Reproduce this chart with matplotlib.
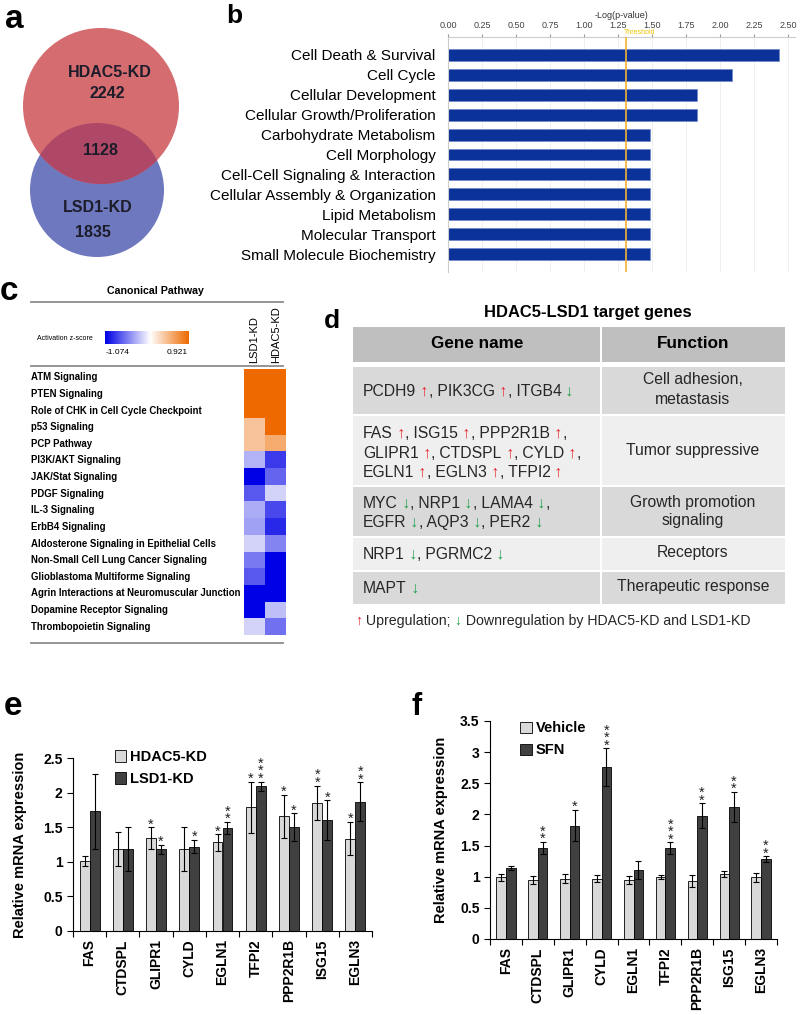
import numpy as np
import matplotlib
matplotlib.use("Agg")
import matplotlib.pyplot as plt
from matplotlib.patches import Circle, Rectangle
from matplotlib.colors import LinearSegmentedColormap, TwoSlopeNorm
from matplotlib.font_manager import FontProperties
from matplotlib.ticker import FuncFormatter
import matplotlib.transforms as mtrans

plt.rcParams['font.family'] = ['Liberation Sans', 'DejaVu Sans']

# ---- panel a: Venn counts ----
venn_names = ["HDAC5-KD", "LSD1-KD"]
venn_only = [2242, 1835]
venn_both = 1128

# ---- panel b: IPA functions ----
b_categories = ["Cell Death & Survival", "Cell Cycle", "Cellular Development",
                "Cellular Growth/Proliferation", "Carbohydrate Metabolism",
                "Cell Morphology", "Cell-Cell Signaling & Interaction",
                "Cellular Assembly & Organization", "Lipid Metabolism",
                "Molecular Transport", "Small Molecule Biochemistry"]
b_logp = [2.43, 2.09, 1.83, 1.83, 1.485, 1.485, 1.485, 1.485, 1.485, 1.485, 1.485]
b_threshold = 1.31

# ---- panel c: canonical pathway z-scores ----
c_pathways = ["ATM Signaling", "PTEN Signaling", "Role of CHK in Cell Cycle Checkpoint",
              "p53 Signaling", "PCP Pathway", "PI3K/AKT Signaling", "JAK/Stat Signaling",
              "PDGF Signaling", "IL-3 Signaling", "ErbB4 Signaling",
              "Aldosterone Signaling in Epithelial Cells",
              "Non-Small Cell Lung Cancer Signaling", "Glioblastoma Multiforme Signaling",
              "Agrin Interactions at Neuromuscular Junction",
              "Dopamine Receptor Signaling", "Thrombopoietin Signaling"]
c_columns = ["LSD1-KD", "HDAC5-KD"]
c_lsd1 = [0.921, 0.921, 0.921, 0.36, 0.36, -0.32, -1.074, -0.70, -0.35, -0.40,
          -0.18, -0.56, -0.70, -1.074, -1.074, -0.18]
c_hdac5 = [0.921, 0.921, 0.921, 0.921, 0.52, -0.83, -0.65, -0.18, -0.77, -0.90,
           -0.52, -1.074, -1.074, -1.074, -0.27, -0.60]
c_zmin, c_zmax = -1.074, 0.921

# ---- panel d: target gene table ----
d_genes = [
    [[("PCDH9", "up"), ("PIK3CG", "up"), ("ITGB4", "down")]],
    [[("FAS", "up"), ("ISG15", "up"), ("PPP2R1B", "up")],
     [("GLIPR1", "up"), ("CTDSPL", "up"), ("CYLD", "up")],
     [("EGLN1", "up"), ("EGLN3", "up"), ("TFPI2", "up")]],
    [[("MYC", "down"), ("NRP1", "down"), ("LAMA4", "down")],
     [("EGFR", "down"), ("AQP3", "down"), ("PER2", "down")]],
    [[("NRP1", "down"), ("PGRMC2", "down")]],
    [[("MAPT", "down")]],
]
d_functions = [["Cell adhesion,", "metastasis"], ["Tumor suppressive"],
               ["Growth promotion", "signaling"], ["Receptors"], ["Therapeutic response"]]

# ---- panels e/f: qPCR ----
genes = ["FAS", "CTDSPL", "GLIPR1", "CYLD", "EGLN1", "TFPI2", "PPP2R1B", "ISG15", "EGLN3"]
e_hdac5 = [1.015, 1.185, 1.34, 1.19, 1.28, 1.79, 1.66, 1.85, 1.335]
e_hdac5_err = [0.07, 0.25, 0.16, 0.32, 0.12, 0.37, 0.31, 0.25, 0.24]
e_lsd1 = [1.73, 1.19, 1.18, 1.22, 1.485, 2.09, 1.50, 1.60, 1.87]
e_lsd1_err = [0.54, 0.32, 0.07, 0.10, 0.09, 0.07, 0.20, 0.29, 0.28]
e_hdac5_sig = ["", "", "*", "", "*", "*", "*", "**", "*"]
e_lsd1_sig = ["", "", "*", "*", "**", "***", "*", "*", "**"]

f_vehicle = [0.99, 0.95, 0.97, 0.97, 0.95, 0.99, 0.93, 1.04, 0.99]
f_vehicle_err = [0.06, 0.06, 0.07, 0.06, 0.06, 0.03, 0.10, 0.045, 0.07]
f_sfn = [1.14, 1.46, 1.82, 2.76, 1.11, 1.46, 1.98, 2.12, 1.28]
f_sfn_err = [0.04, 0.10, 0.25, 0.30, 0.15, 0.09, 0.20, 0.24, 0.05]
f_sfn_sig = ["", "**", "*", "***", "", "***", "**", "**", "**"]

W, H = 800, 1015
fig = plt.figure(figsize=(W / 100, H / 100), dpi=100)
base = fig.add_axes([0, 0, 1, 1])
base.set_xlim(0, W)
base.set_ylim(H, 0)
base.axis('off')


def px_axes(x0, y0, x1, y1):
    return fig.add_axes([x0 / W, 1 - y1 / H, (x1 - x0) / W, (y1 - y0) / H])


# panel letters
for s, x, y, size in [("a", 5, 28, 24), ("b", 226, 23, 19), ("c", 0, 300, 24),
                      ("d", 324, 328, 19), ("e", 4, 715, 24), ("f", 412, 715, 22)]:
    base.text(x, y, s, fontsize=size, fontweight='bold', va='baseline', ha='left')

# ---- a ----
blue = Circle((97, 190), 67, fc='#6E78BE', ec='none')
red = Circle((101, 106), 78, fc='#D46C70', ec='none')
base.add_patch(blue)
base.add_patch(red)
lens = Circle((101, 106), 78, fc='#AE4866', ec='none')
base.add_patch(lens)
lens.set_clip_path(blue)
vkw = dict(fontsize=11.5, fontweight='bold', ha='center', va='center', color='#1c1c2a')
base.text(110, 72, venn_names[0], **vkw)
base.text(107, 93, str(venn_only[0]), **vkw)
base.text(100, 150, str(venn_both), **vkw)
base.text(98, 207, venn_names[1], **vkw)
base.text(93, 232, str(venn_only[1]), **vkw)

# ---- b ----
axb = px_axes(448, 37, 795, 272)
yb = np.arange(len(b_categories))
axb.barh(yb, b_logp, height=0.6, color='#0B3299', edgecolor='#7088C8', linewidth=0.5, zorder=2)
axb.set_ylim(len(b_categories) - 0.1, -0.9)
axb.set_xlim(0, 2.55)
ticks = np.arange(0, 2.51, 0.25)
axb.set_xticks(ticks)
axb.set_xticklabels(["%.2f" % t for t in ticks])
axb.xaxis.tick_top()
axb.xaxis.set_label_position('top')
axb.set_xlabel('-Log(p-value)', fontsize=6.5, labelpad=2, color='#333333')
axb.tick_params(axis='x', labelsize=6.5, colors='#999999', labelcolor='#444444', length=2, pad=3)
axb.set_yticks(yb)
axb.set_yticklabels(b_categories, fontsize=11)
axb.tick_params(axis='y', length=0, pad=9)
axb.grid(axis='x', color='#ececec', lw=0.6)
axb.set_axisbelow(True)
for sp in ['right', 'bottom']:
    axb.spines[sp].set_visible(False)
for sp in ['left', 'top']:
    axb.spines[sp].set_color('#cccccc')
axb.axvline(b_threshold, color='#F2B233', lw=1.2, zorder=3)
trb = mtrans.blended_transform_factory(axb.transData, axb.transAxes)
axb.text(b_threshold - 0.02, 1.005, 'Threshold', transform=trb, color='#F2C400',
         fontsize=5, ha='left', va='bottom')

# ---- c ----
base.text(155, 291, 'Canonical Pathway', ha='center', va='center', fontsize=7.7, fontweight='bold')
for yl in [302, 366, 643]:
    base.plot([31, 283], [yl, yl], color='#8c8c8c', lw=1.3)
base.text(37, 338, 'Activation z-score', fontsize=5, va='center', ha='left')
cmap = LinearSegmentedColormap.from_list('z', [(0, '#0000E6'), (0.5, '#FFFFFF'), (1, '#EE6A00')])
norm = TwoSlopeNorm(vmin=c_zmin, vcenter=0, vmax=c_zmax)
axcb = px_axes(105, 331, 189, 344)
axcb.imshow(np.linspace(c_zmin, c_zmax, 200)[None, :], cmap=cmap, norm=norm, aspect='auto')
axcb.axis('off')
base.text(118, 353, '%.3f' % c_zmin, fontsize=6, ha='center', va='center')
base.text(177, 353, '%.3f' % c_zmax, fontsize=6, ha='center', va='center')
base.text(254, 363, c_columns[0], rotation=90, ha='center', va='bottom', fontsize=8)
base.text(276, 363, c_columns[1], rotation=90, ha='center', va='bottom', fontsize=8)

axc = px_axes(244, 369, 286, 635)
axc.imshow(np.column_stack([c_lsd1, c_hdac5]), cmap=cmap, norm=norm, aspect='auto',
           interpolation='nearest')
axc.axis('off')
row_h = (635 - 369) / len(c_pathways)
for i, name in enumerate(c_pathways):
    base.text(31, 369 + (i + 0.5) * row_h, name, fontsize=6.9, fontweight='bold', va='center')

# ---- d ----
base.text(588, 313, 'HDAC5-LSD1 target genes', ha='center', va='center', fontsize=11.9,
          fontweight='bold')
col_l, col_m, col_r = 353, 601, 785
base.add_patch(Rectangle((col_l, 327), col_m - col_l - 1, 35, fc='#BFBFBF', ec='none'))
base.add_patch(Rectangle((col_m + 1, 327), col_r - col_m - 1, 35, fc='#BFBFBF', ec='none'))
base.text(477, 344, 'Gene name', ha='center', va='center', fontsize=12.3, fontweight='bold')
base.text(693, 344, 'Function', ha='center', va='center', fontsize=12.3, fontweight='bold')

row_bounds = [(367, 414), (416, 485), (487, 536), (538, 570), (572, 604)]
row_colors = ['#D9D9D9', '#EFEFEF', '#D9D9D9', '#EFEFEF', '#D9D9D9']
gene_y = [[390], [432, 452, 471], [502, 521], [553], [587]]
func_y = [[380, 400], [451], [502, 521], [553], [587]]

renderer = fig.canvas.get_renderer()
prop = FontProperties(family=['Liberation Sans', 'DejaVu Sans'], size=11.3)
arrow = {"up": "\u2191", "down": "\u2193"}
arrow_col = {"up": "#E8222A", "down": "#1FA04A"}


def text_width(s, fp):
    w, h, d = renderer.get_text_width_height_descent(s, fp, ismath=False)
    return w


def draw_runs(x, y, runs, fp):
    prefix = ""
    for s, col in runs:
        xs = x + (text_width(prefix, fp) if prefix else 0)
        base.text(xs, y, s, color=col, fontproperties=fp, va='baseline', ha='left')
        prefix += s


for r, (y0, y1) in enumerate(row_bounds):
    base.add_patch(Rectangle((col_l, y0), col_m - col_l - 1, y1 - y0, fc=row_colors[r], ec='none'))
    base.add_patch(Rectangle((col_m + 1, y0), col_r - col_m - 1, y1 - y0, fc=row_colors[r], ec='none'))
    lines = d_genes[r]
    for li, items in enumerate(lines):
        runs = []
        for k, (g, d) in enumerate(items):
            runs.append(((" " if k else "") + g, "#262626"))
            runs.append((" " + arrow[d], arrow_col[d]))
            if k < len(items) - 1 or li < len(lines) - 1:
                runs.append((",", "#262626"))
        draw_runs(363, gene_y[r][li] + 6, runs, prop)
    for fi, txt in enumerate(d_functions[r]):
        base.text(693, func_y[r][fi], txt, ha='center', va='center', fontsize=11.3, color='#262626')

foot_prop = FontProperties(family=['Liberation Sans', 'DejaVu Sans'], size=10.2)
draw_runs(355, 625, [(arrow["up"], arrow_col["up"]), (" Upregulation;", "#262626"),
                     (" " + arrow["down"], arrow_col["down"]),
                     (" Downregulation by HDAC5-KD and LSD1-KD", "#262626")], foot_prop)


# ---- e / f ----
def bar_panel(ax, light, light_err, dark, dark_err, light_sig, dark_sig, ymax, labels, anchor):
    x = np.arange(1, len(genes) + 1)
    w = 0.3
    ekw = dict(ecolor='black', elinewidth=0.8, capsize=2.5, capthick=0.8)
    ax.bar(x - w / 2, light, w, yerr=light_err, color='#D9D9D9', edgecolor='black',
           linewidth=0.6, error_kw=ekw, label=labels[0])
    ax.bar(x + w / 2, dark, w, yerr=dark_err, color='#404040', edgecolor='black',
           linewidth=0.6, error_kw=ekw, label=labels[1])
    # significance stars, stacked vertically above each error bar
    for off, vals, errs, sigs in [(-w / 2, light, light_err, light_sig),
                                  (w / 2, dark, dark_err, dark_sig)]:
        for xi, v, e, s in zip(x, vals, errs, sigs):
            if s:
                ax.annotate("\n".join(s), (xi + off, v + e), xytext=(0, -3),
                            textcoords='offset points', ha='center', va='bottom',
                            fontsize=10.5, linespacing=0.42, color='#222222',
                            annotation_clip=False)
    ax.set_xlim(0.5, len(genes) + 0.5)
    ax.set_ylim(0, ymax)
    ax.set_yticks(np.arange(0, ymax + 0.01, 0.5))
    ax.yaxis.set_major_formatter(FuncFormatter(lambda v, p: "%g" % v))
    ax.set_xticks(np.arange(0.5, len(genes) + 0.6, 1))
    ax.set_xticklabels([])
    ax.set_xticks(x, minor=True)
    ax.set_xticklabels(genes, minor=True, rotation=90, fontsize=10, fontweight='bold')
    ax.tick_params(axis='x', which='major', length=4, width=0.8, direction='out')
    ax.tick_params(axis='x', which='minor', length=0, pad=6)
    ax.tick_params(axis='y', length=4, width=0.8, direction='out', labelsize=10)
    for lbl in ax.get_yticklabels():
        lbl.set_fontweight('bold')
    for sp in ['top', 'right']:
        ax.spines[sp].set_visible(False)
    for sp in ['left', 'bottom']:
        ax.spines[sp].set_linewidth(0.8)
    ax.set_ylabel('Relative mRNA expression', fontsize=10.5, fontweight='bold')
    ax.legend(loc='upper left', bbox_to_anchor=anchor, frameon=False, handlelength=0.8,
              handleheight=0.8, handletextpad=0.25, labelspacing=0.55, borderaxespad=0,
              prop=dict(size=10.5, weight='bold'))


axe = px_axes(73, 758, 372, 931)
bar_panel(axe, e_hdac5, e_hdac5_err, e_lsd1, e_lsd1_err, e_hdac5_sig, e_lsd1_sig, 2.5,
          ["HDAC5-KD", "LSD1-KD"], (0.12, 1.08))
axe.yaxis.set_label_coords(-0.155, 0.5)

axf = px_axes(490, 721, 777, 939)
bar_panel(axf, f_vehicle, f_vehicle_err, f_sfn, f_sfn_err, [""] * len(genes), f_sfn_sig, 3.5,
          ["Vehicle", "SFN"], (0.085, 1.025))
axf.yaxis.set_label_coords(-0.146, 0.5)

fig.savefig("out.png", dpi=100)
